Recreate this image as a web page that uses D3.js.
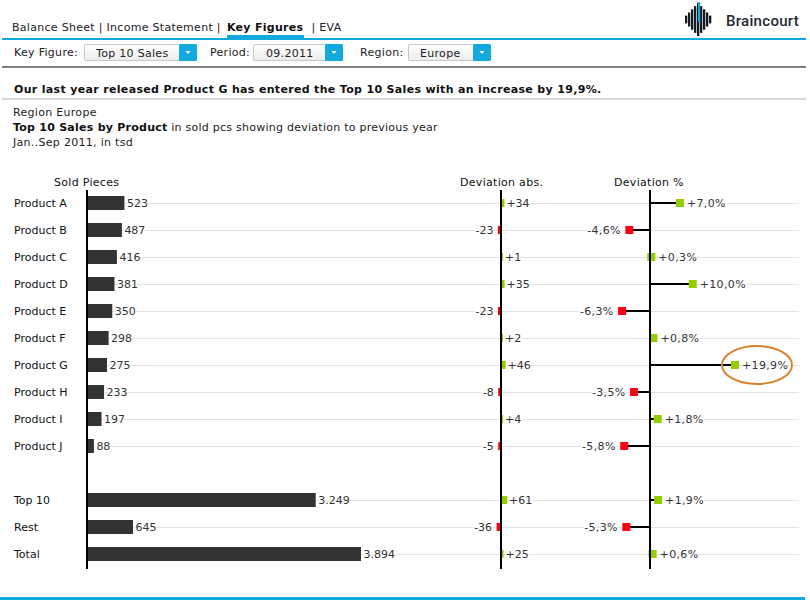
<!DOCTYPE html>
<html><head><meta charset="utf-8">
<script src="https://cdn.jsdelivr.net/npm/d3@7/dist/d3.min.js"></script>
<style>
html,body{margin:0;padding:0;background:#fff;overflow:hidden}
text{font-family:"DejaVu Sans",Verdana,sans-serif;font-size:11px;fill:#111}
</style></head><body>
<svg id="c" width="810" height="600"></svg>
<script>
const categories=["Product A","Product B","Product C","Product D","Product E","Product F","Product G","Product H","Product I","Product J","","Top 10","Rest","Total"];
const sold=[523,487,416,381,350,298,275,233,197,88,null,3249,645,3894];
const soldLabels=["523","487","416","381","350","298","275","233","197","88","","3.249","645","3.894"];
const devAbs=[34,-23,1,35,-23,2,46,-8,4,-5,null,61,-36,25];
const devPct=[7.0,-4.6,0.3,10.0,-6.3,0.8,19.9,-3.5,1.8,-5.8,null,1.9,-5.3,0.6];
const navItems=["Balance Sheet | Income Statement |","Key Figures","| EVA"];
const GREEN="#94cc00",RED="#fb0010",BLUE="#12a9df";
const svg=d3.select("#c");

const y=d3.scalePoint().domain(d3.range(categories.length)).range([203,554]);
const xSold=d3.scaleLinear().domain([0,3894]).range([87.7,361]);
const xAbs=d3.scaleLinear().domain([-100,100]).range([491,511]);
const xPct=d3.scaleLinear().domain([0,19.9]).range([650,735]);
const rows=categories.map((c,i)=>i).filter(i=>categories[i]!=="");
const fmtS=v=>(v>0?"+":"-")+Math.abs(v);
const fmtP=v=>(v>0?"+":"-")+Math.abs(v).toFixed(1).replace(".",",")+"%";

/* header */
function T(x,yy,s,o={}){const t=svg.append("text").attr("x",x).attr("y",yy).text(s);
 if(o.w)t.style("font-weight","bold");
 if(o.ls!==undefined)t.style("letter-spacing",o.ls+"px");
 if(o.a)t.attr("text-anchor",o.a);if(o.f)t.style("fill",o.f);return t;}
T(12,31,navItems[0],{ls:.29,f:"#222"});
T(227,31,navItems[1],{w:1,ls:.28});
T(311.5,31,navItems[2],{ls:.3,f:"#222"});
svg.append("rect").attr("x",2).attr("y",38).attr("width",804).attr("height",2).attr("fill",BLUE);
svg.append("rect").attr("x",227).attr("y",35).attr("width",77).attr("height",4).attr("fill",BLUE);
svg.append("rect").attr("x",2).attr("y",66).attr("width",804).attr("height",2).attr("fill","#808080");
svg.append("rect").attr("x",2).attr("y",98).attr("width",804).attr("height",2).attr("fill","#d8d8d8");
svg.append("rect").attr("x",0).attr("y",597).attr("width",805).attr("height",3).attr("fill",BLUE);

const grad=svg.append("defs").append("linearGradient").attr("id","g").attr("x2",0).attr("y2",1);
grad.append("stop").attr("offset",0).attr("stop-color","#ffffff");
grad.append("stop").attr("offset",1).attr("stop-color","#ececec");
[[14,"Key Figure:",84,113,"Top 10 Sales",96],[210,"Period:",253,90,"09.2011",266],[360,"Region:",408,83,"Europe",420]].forEach(d=>{
 T(d[0],56,d[1],{ls:.3,f:"#222"});
 svg.append("rect").attr("x",d[2]+.5).attr("y",44.5).attr("width",d[3]-1).attr("height",16).attr("rx",1.5).attr("fill","url(#g)").attr("stroke","#c8c8c8");
 svg.append("rect").attr("x",d[2]+d[3]-18).attr("y",44).attr("width",18).attr("height",17).attr("rx",1.5).attr("fill",BLUE);
 const cx=d[2]+d[3]-9;
 svg.append("path").attr("d",`M${cx-2.5},51 h5 l-2.5,3 z`).attr("fill","#fff");
 T(d[5],57,d[4],{ls:.3,f:"#222"});
});
/* logo */
d3.range(-12,13,3).forEach(o=>{
 const h=16.5-Math.abs(o)*1.05;
 svg.append("rect").attr("x",697+o).attr("y",19.5-h).attr("width",2.3).attr("height",2*h).attr("fill","#121c24");
});
svg.append("rect").attr("x",698).attr("y",2).attr("width",2.2).attr("height",20).attr("fill",BLUE);
const lg=T(726,26,"Braincourt",{f:"#1f2a33"});lg.style("font-family","Roboto").style("font-size","15px").style("font-weight","500").style("letter-spacing",".3px");

T(14,93,"Our last year released Product G has entered the Top 10 Sales with an increase by 19,9%.",{w:1,ls:.33});
T(13,116,"Region Europe",{ls:.3,f:"#222"});
const st=T(13,131,"",{ls:.25});
st.append("tspan").style("font-weight","bold").text("Top 10 Sales by Product");
st.append("tspan").style("fill","#222").text(" in sold pcs showing deviation to previous year");
T(13,146,"Jan..Sep 2011, in tsd",{ls:.3,f:"#222"});

T(54,186,"Sold Pieces",{ls:.3});
T(460,186,"Deviation abs.",{ls:.3});
T(614,186,"Deviation %",{ls:.3});

/* grid */
svg.append("g").selectAll("line").data(rows).join("line")
 .attr("x1",87).attr("x2",799).attr("y1",i=>y(i)+.5).attr("y2",i=>y(i)+.5)
 .attr("stroke","#e3e3e3");

/* category labels */
svg.append("g").selectAll("text").data(rows).join("text")
 .attr("x",14).attr("y",i=>y(i)+4).text(i=>categories[i]);

/* sold bars */
svg.append("g").selectAll("rect").data(rows).join("rect")
 .attr("x",xSold(0)).attr("y",i=>y(i)-7).attr("width",i=>xSold(sold[i])-xSold(0)).attr("height",14).attr("fill","#333");
const halo=s=>s.style("paint-order","stroke").style("stroke","#fff").style("stroke-width","2px").style("fill","#333");
svg.append("g").selectAll("text").data(rows).join("text")
 .attr("x",i=>xSold(sold[i])+2.5).attr("y",i=>y(i)+4).text(i=>soldLabels[i]).call(halo);

/* deviation abs */
const absEnd=v=>{const w=Math.max(Math.abs(xAbs(v)-xAbs(0)),2);return xAbs(0)+(v>0?w:-(w+.8));};
svg.append("g").selectAll("rect").data(rows).join("rect")
 .attr("x",i=>Math.min(xAbs(0),absEnd(devAbs[i]))).attr("y",i=>y(i)-4)
 .attr("width",i=>Math.abs(absEnd(devAbs[i])-xAbs(0))).attr("height",8)
 .attr("fill",i=>devAbs[i]>0?GREEN:RED);
svg.append("g").selectAll("text").data(rows).join("text")
 .attr("x",i=>absEnd(devAbs[i])+(devAbs[i]>0?2:-4.5)).attr("y",i=>y(i)+4)
 .attr("text-anchor",i=>devAbs[i]>0?"start":"end").text(i=>fmtS(devAbs[i])).call(halo);

/* deviation pct */
const pctPos=v=>xPct(v)-(v<0?1:0);
svg.append("g").selectAll("line").data(rows).join("line")
 .attr("x1",xPct(0)).attr("x2",i=>pctPos(devPct[i])).attr("y1",i=>y(i)).attr("y2",i=>y(i))
 .attr("stroke","#000").attr("stroke-width",2);
svg.append("g").selectAll("rect").data(rows).join("rect")
 .attr("x",i=>pctPos(devPct[i])-4).attr("y",i=>y(i)-4).attr("width",8).attr("height",8)
 .attr("fill",i=>devPct[i]>0?GREEN:RED);
svg.append("g").selectAll("text").data(rows).join("text")
 .attr("x",i=>pctPos(devPct[i])+(devPct[i]>0?7:-8.5)).attr("y",i=>y(i)+4)
 .attr("text-anchor",i=>devPct[i]>0?"start":"end").text(i=>fmtP(devPct[i])).call(halo).style("letter-spacing",".35px");

/* axes */
[87,xAbs(0),xPct(0)].forEach(x=>svg.append("line").attr("x1",x).attr("x2",x).attr("y1",190).attr("y2",569).attr("stroke","#000").attr("stroke-width",2));

/* highlight */
svg.append("ellipse").attr("cx",757).attr("cy",y(6)).attr("rx",35).attr("ry",19).attr("fill","none").attr("stroke","#d9822b").attr("stroke-width",2);
</script></body></html>
